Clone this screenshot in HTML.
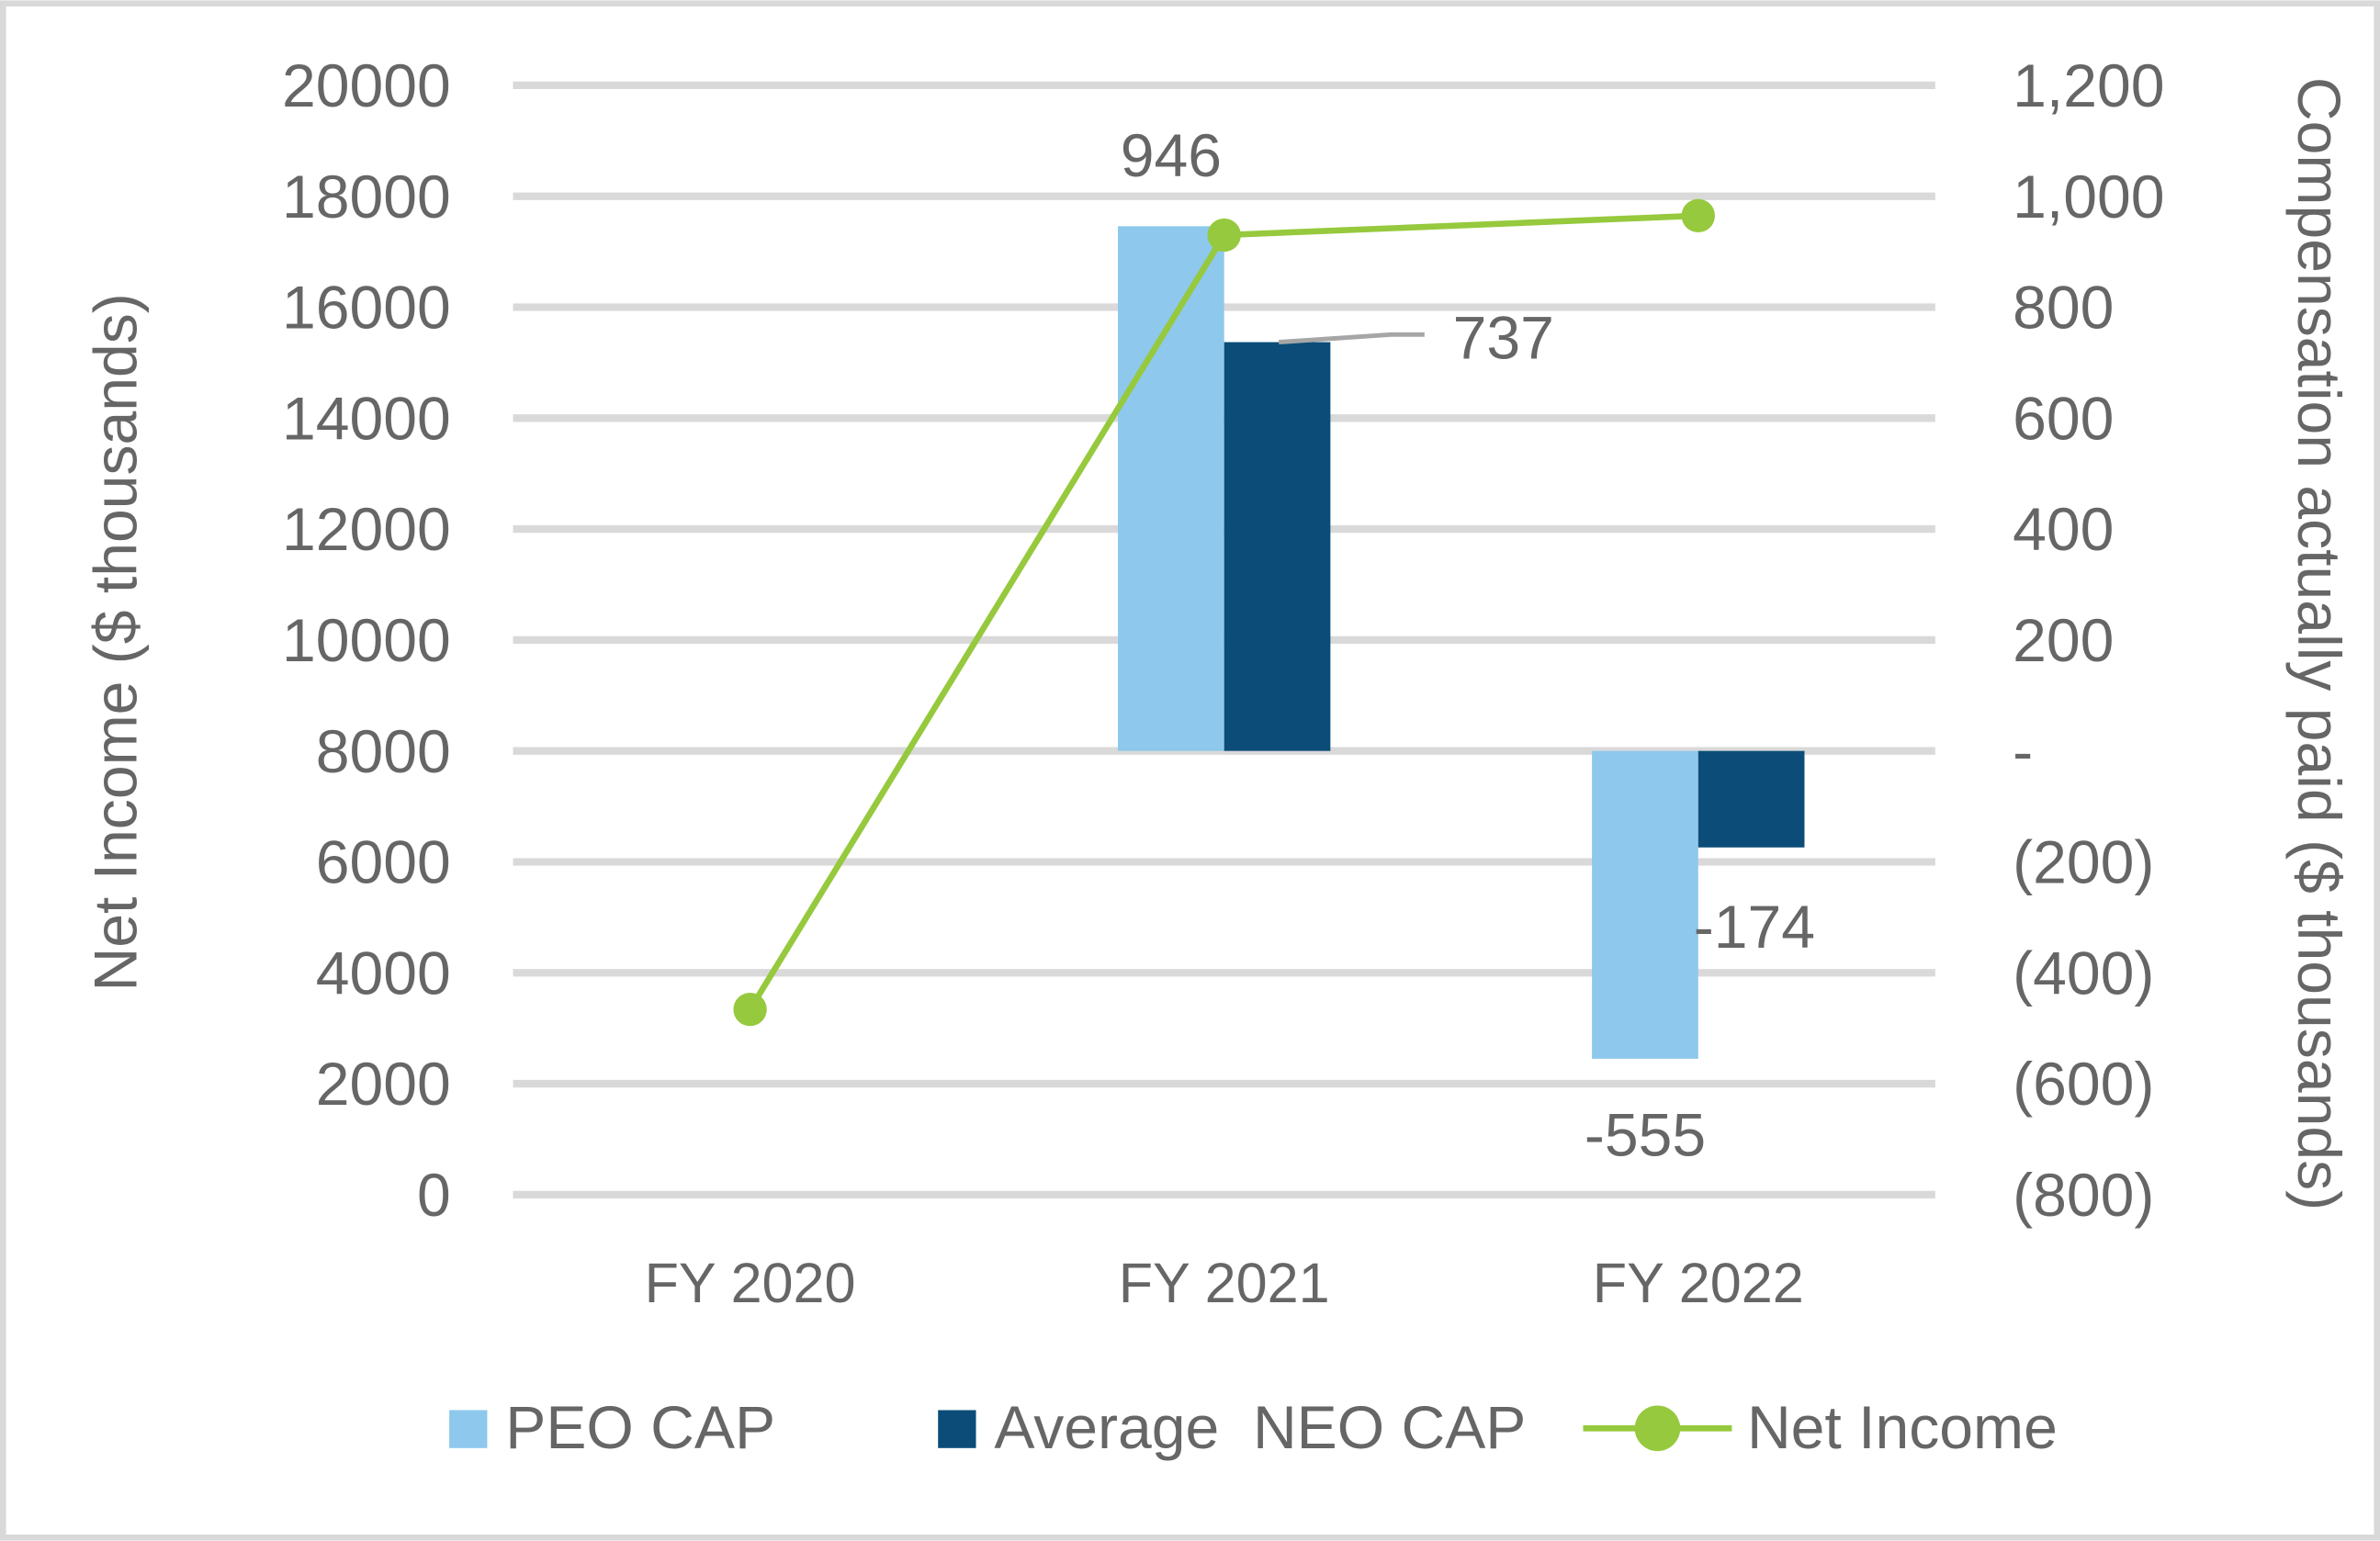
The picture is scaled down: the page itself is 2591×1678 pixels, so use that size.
<!DOCTYPE html>
<html><head><meta charset="utf-8"><style>
html,body{margin:0;padding:0;background:#fff}
svg{display:block}
text{font-family:"Liberation Sans",sans-serif;fill:#666}
</style></head><body>
<svg id="chart" width="2591" height="1678" viewBox="0 0 1568 1015" xmlns="http://www.w3.org/2000/svg">
<rect x="2" y="2" width="1564" height="1011" fill="#fff" stroke="#d9d9d9" stroke-width="4"/>
<g id="grid"></g><g id="marks"></g><g id="labels"></g>
<text transform="translate(90,423) rotate(-90)" text-anchor="middle" font-size="40">Net Income ($ thousands)</text>
<text transform="translate(1514,424) rotate(90)" text-anchor="middle" font-size="40">Compensation actually paid ($ thousands)</text>
<g font-size="40">
<rect x="296" y="929" width="25" height="25" fill="#8ec8ec"/>
<text x="333" y="954">PEO CAP</text>
<rect x="618" y="929" width="25" height="25" fill="#0b4d78"/>
<text x="655" y="954" xml:space="preserve">Average  NEO CAP</text>
<line x1="1043" y1="941" x2="1141" y2="941" stroke="#96c93d" stroke-width="4"/>
<circle cx="1092" cy="941" r="15" fill="#96c93d"/>
<text x="1151" y="954">Net Income</text>
</g>
</svg>
<script>
const categories=["FY 2020","FY 2021","FY 2022"];
const peoCap=[null,946,-555];
const neoCap=[null,737,-174];
const netIncome=[3340,17300,17650];
const leftTicks=[0,2000,4000,6000,8000,10000,12000,14000,16000,18000,20000];
const rightTicks=[-800,-600,-400,-200,0,200,400,600,800,1000,1200];
const rightTickLabels=["(800)","(600)","(400)","(200)","-","200","400","600","800","1,000","1,200"];
const NS="http://www.w3.org/2000/svg";
const yTop=56,yBot=787,x0=338,x1=1275;
const yL=v=>yBot-(v-0)/20000*(yBot-yTop);
const yR=v=>yBot-(v+800)/2000*(yBot-yTop);
const xC=i=>x0+(x1-x0)/3*(i+0.5);
function mk(tag,attrs,parent,txt){const e=document.createElementNS(NS,tag);for(const k in attrs)e.setAttribute(k,attrs[k]);if(txt!=null)e.textContent=txt;document.getElementById(parent).appendChild(e);return e;}
leftTicks.forEach((t,i)=>{
 const g=mk('line',{x1:x0,x2:x1,y1:yL(t),y2:yL(t),stroke:'#d9d9d9','stroke-width':5},'grid');
 
 
 const l=mk('text',{x:297,y:yL(t)+14,'text-anchor':'end','font-size':40},'labels',String(t));
 
 
});
rightTicks.forEach((t,i)=>{
 const l=mk('text',{x:1326,y:yR(t)+14,'font-size':40},'labels',rightTickLabels[i]);
 
 
});
categories.forEach((c,i)=>{
 const l=mk('text',{x:xC(i),y:858,'text-anchor':'middle','font-size':37},'labels',c);
 
 
});
const bw=70;
categories.forEach((c,i)=>{
 if(peoCap[i]!=null){
  const v=peoCap[i],y=Math.min(yR(v),yR(0)),h=Math.abs(yR(v)-yR(0));
  const r=mk('rect',{x:xC(i)-bw,y:y,width:bw,height:h,fill:'#8ec8ec'},'marks');
  
  
  const l=mk('text',{x:xC(i)-35,y:v>=0?yR(v)-33:yR(v)+64,'text-anchor':'middle','font-size':40},'labels',String(v));
  
  
 }
 if(neoCap[i]!=null){
  const v=neoCap[i],y=Math.min(yR(v),yR(0)),h=Math.abs(yR(v)-yR(0));
  const r=mk('rect',{x:xC(i),y:y,width:bw,height:h,fill:'#0b4d78'},'marks');
  
  
  let lx,ly;
  if(v>=0){lx=xC(i)+184;ly=yR(v)+11;
   const ld=mk('polyline',{points:`${xC(i)+36},${yR(v)} ${xC(i)+110},${yR(v)-5} ${xC(i)+132},${yR(v)-5}`,fill:'none',stroke:'#a6a6a6','stroke-width':3},'marks');
   
   
  } else {lx=xC(i)+37;ly=yR(v)+66;}
  const l=mk('text',{x:lx,y:ly,'text-anchor':'middle','font-size':40},'labels',String(v));
  
  
 }
});
const pts=netIncome.map((v,i)=>xC(i)+','+yL(v)).join(' ');
const pl=mk('polyline',{points:pts,fill:'none',stroke:'#96c93d','stroke-width':4},'marks');


netIncome.forEach((v,i)=>{
 const c=mk('circle',{cx:xC(i),cy:yL(v),r:11,fill:'#96c93d'},'marks');
 
 
});
</script>
</body></html>
